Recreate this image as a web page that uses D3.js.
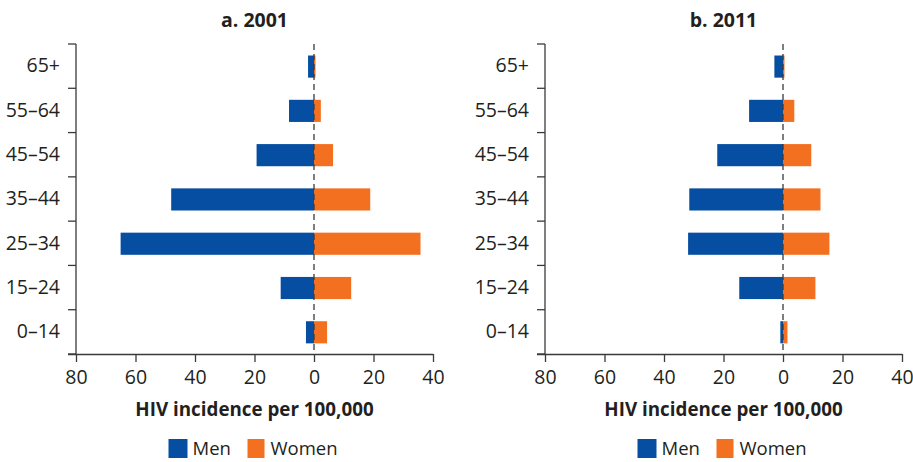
<!DOCTYPE html>
<html>
<head>
<meta charset="utf-8">
<script src="https://cdn.jsdelivr.net/npm/d3@7"></script>
<style>
body { margin: 0; background: #fff; }
svg text { font-family: "Open Sans", "Noto Sans", sans-serif; fill: #231f20; }
</style>
</head>
<body>
<div id="div_svg"></div>
<script>
var ageGroups = ["65+", "55\u201364", "45\u201354", "35\u201344", "25\u201334", "15\u201324", "0\u201314"];
var men2001 = [2, 8.4, 19.3, 48, 65, 11.2, 2.7];
var women2001 = [0.5, 2.3, 6.4, 18.9, 35.8, 12.5, 4.4];
var men2011 = [2.9, 11.4, 22.1, 31.5, 31.9, 14.7, 0.9];
var women2011 = [0.5, 3.8, 9.5, 12.6, 15.6, 10.9, 1.5];
var xTicks = [-80, -60, -40, -20, 0, 20, 40];
var panelTitles = ["a. 2001", "b. 2011"];
var seriesNames = ["Men", "Women"];

var blue = "#054ea2", orange = "#f37021", axisColor = "#3a3a3a";

var svg = d3.select("#div_svg").append("svg").attr("id", "svg")
    .attr("width", 913).attr("height", 462);

function drawPanel(left, title, men, women) {
    var x = d3.scaleLinear().domain([-80, 40]).range([left, left + 357]);
    var y = d3.scaleBand().domain(ageGroups).range([44, 354]);
    var g = svg.append("g");

    // bars
    g.selectAll(".men").data(men).enter().append("rect")
        .attr("x", function(d) { return x(-d); })
        .attr("width", function(d) { return x(0) - x(-d); })
        .attr("y", function(d, i) { return y(ageGroups[i]) + y.bandwidth() * 0.26; })
        .attr("height", y.bandwidth() * 0.5)
        .style("fill", blue);
    g.selectAll(".women").data(women).enter().append("rect")
        .attr("x", x(0))
        .attr("width", function(d) { return x(d) - x(0); })
        .attr("y", function(d, i) { return y(ageGroups[i]) + y.bandwidth() * 0.26; })
        .attr("height", y.bandwidth() * 0.5)
        .style("fill", orange);

    // zero line
    g.append("line").attr("x1", x(0)).attr("x2", x(0)).attr("y1", 44).attr("y2", 354)
        .style("stroke", axisColor).style("stroke-width", 1.3).style("stroke-dasharray", "6,4");

    // y axis
    var yAxis = d3.axisLeft(y).tickSize(0).tickPadding(16);
    var ya = g.append("g").attr("transform", "translate(" + left + ",0)").call(yAxis);
    ya.select(".domain").remove();
    ya.selectAll("text").style("font-size", "19.5px");
    g.append("line").attr("x1", left).attr("x2", left).attr("y1", 44).attr("y2", 354)
        .style("stroke", axisColor).style("stroke-width", 1.3);
    var edges = d3.range(ageGroups.length + 1).map(function(i) { return 44 + i * y.step(); });
    g.selectAll(".ytick").data(edges).enter().append("line")
        .attr("x1", left - 8).attr("x2", left)
        .attr("y1", function(d) { return d; }).attr("y2", function(d) { return d; })
        .style("stroke", axisColor).style("stroke-width", 1.3);

    // x axis
    var xAxis = d3.axisBottom(x).tickValues(xTicks).tickSize(8).tickPadding(8)
        .tickFormat(function(d) { return Math.abs(d); });
    var xa = g.append("g").attr("transform", "translate(0,354)").call(xAxis);
    xa.select(".domain").attr("d", "M" + (left - 8) + ",0.5H" + (left + 357))
        .style("stroke", axisColor).style("stroke-width", 1.3);
    xa.selectAll(".tick line").style("stroke", axisColor).style("stroke-width", 1.3);
    xa.selectAll("text").style("font-size", "19.5px");

    var cx = left + 357 / 2;
    g.append("text").attr("x", cx).attr("y", 27).attr("text-anchor", "middle")
        .style("font-size", "19.5px").style("font-weight", "bold").text(title);
    g.append("text").attr("x", cx).attr("y", 416).attr("text-anchor", "middle")
        .style("font-size", "18.8px").style("font-weight", "bold").text("HIV incidence per 100,000");

    // legend
    var lg = g.append("g").attr("transform", "translate(" + (cx - 86) + ",439)");
    lg.append("rect").attr("x", 0).attr("y", 0).attr("width", 19).attr("height", 19).style("fill", blue);
    lg.append("text").attr("x", 24).attr("y", 16).style("font-size", "18.5px").text(seriesNames[0]);
    lg.append("rect").attr("x", 79).attr("y", 0).attr("width", 17).attr("height", 19).style("fill", orange);
    lg.append("text").attr("x", 102).attr("y", 16).style("font-size", "18.5px").text(seriesNames[1]);
}

drawPanel(76, panelTitles[0], men2001, women2001);
drawPanel(545, panelTitles[1], men2011, women2011);
</script>
</body>
</html>
